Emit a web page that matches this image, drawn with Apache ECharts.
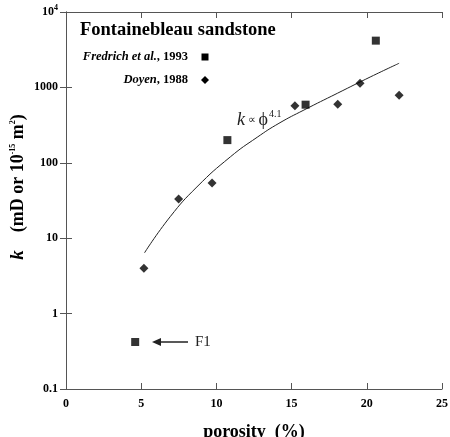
<!DOCTYPE html>
<html>
<head>
<meta charset="utf-8">
<script src="https://cdn.jsdelivr.net/npm/echarts@6/dist/echarts.min.js"></script>
<style>
  html, body { margin: 0; padding: 0; background: #fff; }
  #chart { width: 450px; height: 437px; }
</style>
</head>
<body>
<div id="chart"></div>
<script>
// Fredrich et al., 1993 (squares)
const fredrichPorosity = [4.6, 10.73, 15.93, 20.6]
const fredrichK = [0.42, 200, 590, 4170]
// Doyen, 1988 (diamonds)
const doyenPorosity = [5.18, 7.49, 9.71, 15.22, 18.07, 19.55, 22.15]
const doyenK = [4.0, 33, 54, 572, 597, 1133, 785]
// fitted trend k ~ phi^4.1
const fitPorosity = [5.22, 6.93, 8.71, 10.93, 12.71, 14.16, 15.82, 18.04, 20.27, 22.15]
const fitK = [6.4, 19.3, 48, 120, 218, 334, 501, 835, 1387, 2090]
// axis ticks
const xTicks = [0, 5, 10, 15, 20, 25]
const yTicks = [0.1, 1, 10, 100, 1000, 10000]

const zip = (xs, ys) => xs.map((x, i) => [x, ys[i]])
const serif = 'Liberation Serif'
const axisColor = '#555'

const chart = echarts.init(document.getElementById('chart'))

// 设置数据
const option = {
  animation: false,
  grid: { left: 66, top: 12, right: 8, bottom: 48, outerBoundsMode: 'none', containLabel: false },
  xAxis: [
    {
      type: 'value',
      min: xTicks[0],
      max: xTicks[xTicks.length - 1],
      interval: 5,
      name: 'porosity  (%)',
      nameLocation: 'middle',
      nameGap: 34,
      nameTextStyle: { fontFamily: serif, fontWeight: 'bold', fontSize: 18, color: '#000' },
      axisLine: { lineStyle: { color: axisColor } },
      axisTick: { inside: true, length: 6, lineStyle: { color: axisColor } },
      axisLabel: { fontFamily: serif, fontWeight: 'bold', fontSize: 12, color: '#000', margin: 9 },
      splitLine: { show: false }
    },
    {
      type: 'value',
      position: 'top',
      min: xTicks[0],
      max: xTicks[xTicks.length - 1],
      interval: 5,
      axisLine: { lineStyle: { color: axisColor } },
      axisTick: { inside: true, length: 6, lineStyle: { color: axisColor } },
      axisLabel: { show: false },
      splitLine: { show: false }
    }
  ],
  yAxis: [
    {
      type: 'log',
      logBase: 10,
      min: yTicks[0],
      max: yTicks[yTicks.length - 1],
      axisLine: { show: true, lineStyle: { color: axisColor } },
      axisTick: { show: true, inside: true, length: 6, lineStyle: { color: axisColor } },
      axisLabel: {
        fontFamily: serif,
        fontWeight: 'bold',
        fontSize: 12,
        color: '#000',
        margin: 8,
        formatter: v => (v >= 10000 ? '{b|10}{p|4}' : String(v)),
        rich: {
          b: { fontFamily: serif, fontWeight: 'bold', fontSize: 12, color: '#000' },
          p: { fontFamily: serif, fontWeight: 'bold', fontSize: 8, color: '#000', padding: [0, 0, 8, 0] }
        }
      },
      splitLine: { show: false }
    },
    {
      type: 'log',
      logBase: 10,
      position: 'right',
      min: yTicks[0],
      max: yTicks[yTicks.length - 1],
      axisLine: { show: true, lineStyle: { color: axisColor } },
      axisTick: { show: true, inside: true, length: 6, lineStyle: { color: axisColor } },
      axisLabel: { show: false },
      splitLine: { show: false }
    }
  ],
  series: [
    {
      name: 'fit',
      type: 'line',
      data: zip(fitPorosity, fitK),
      smooth: true,
      showSymbol: false,
      lineStyle: { color: '#222', width: 1 },
      z: 1
    },
    {
      name: 'Fredrich et al., 1993',
      type: 'scatter',
      data: zip(fredrichPorosity, fredrichK),
      symbol: 'rect',
      symbolSize: 8,
      itemStyle: { color: '#000' },
      z: 3
    },
    {
      name: 'Doyen, 1988',
      type: 'scatter',
      data: zip(doyenPorosity, doyenK),
      symbol: 'diamond',
      symbolSize: 9,
      itemStyle: { color: '#000' },
      z: 3
    }
  ],
  graphic: [
    // y axis title, rotated
    {
      type: 'text',
      x: 18,
      y: 187,
      rotation: Math.PI / 2,
      style: {
        text: '{k|k}{t|    (mD or 10}{s|-15}{t| m}{s|2}{t|)}',
        align: 'center',
        verticalAlign: 'middle',
        rich: {
          k: { fontFamily: serif, fontStyle: 'italic', fontWeight: 'bold', fontSize: 19, fill: '#000' },
          t: { fontFamily: serif, fontWeight: 'bold', fontSize: 18, fill: '#000' },
          s: { fontFamily: serif, fontWeight: 'bold', fontSize: 8, fill: '#000', padding: [0, 0, 11, 0] }
        }
      }
    },
    {
      type: 'text',
      left: 80,
      top: 21,
      style: { text: 'Fontainebleau sandstone', font: `bold 18.5px "${serif}"`, fill: '#000' }
    },
    {
      type: 'text',
      x: 188,
      y: 57,
      style: {
        text: '{i|Fredrich et al.}{n|, 1993}',
        align: 'right',
        verticalAlign: 'middle',
        rich: {
          i: { fontFamily: serif, fontStyle: 'italic', fontWeight: 'bold', fontSize: 12.5, fill: '#000' },
          n: { fontFamily: serif, fontWeight: 'bold', fontSize: 12.5, fill: '#000' }
        }
      }
    },
    {
      type: 'rect',
      shape: { x: 201.5, y: 53.5, width: 7, height: 7 },
      style: { fill: '#000' }
    },
    {
      type: 'text',
      x: 188,
      y: 80,
      style: {
        text: '{i|Doyen}{n|, 1988}',
        align: 'right',
        verticalAlign: 'middle',
        rich: {
          i: { fontFamily: serif, fontStyle: 'italic', fontWeight: 'bold', fontSize: 12.5, fill: '#000' },
          n: { fontFamily: serif, fontWeight: 'bold', fontSize: 12.5, fill: '#000' }
        }
      }
    },
    {
      type: 'polygon',
      shape: { points: [[205, 76], [209, 80], [205, 84], [201, 80]] },
      style: { fill: '#000' }
    },
    {
      type: 'text',
      x: 237,
      y: 120,
      style: {
        text: '{k|k}{o| \u221d }{p|\u03d5}{s|4.1}',
        verticalAlign: 'middle',
        rich: {
          k: { fontFamily: serif, fontStyle: 'italic', fontSize: 18, fill: '#222' },
          o: { fontFamily: serif, fontSize: 11, fill: '#222' },
          p: { fontFamily: serif, fontSize: 18, fill: '#222' },
          s: { fontFamily: serif, fontSize: 10, fill: '#222', padding: [0, 0, 12, 1] }
        }
      }
    },
    {
      type: 'line',
      shape: { x1: 157, y1: 342, x2: 188, y2: 342 },
      style: { stroke: '#222', lineWidth: 1.5 }
    },
    {
      type: 'polygon',
      shape: { points: [[152, 342], [161, 338], [161, 346]] },
      style: { fill: '#222' }
    },
    {
      type: 'text',
      x: 195,
      y: 342,
      style: { text: 'F1', font: `15px "${serif}"`, fill: '#222', verticalAlign: 'middle' }
    }
  ]
}
chart.setOption(option)
</script>
</body>
</html>
